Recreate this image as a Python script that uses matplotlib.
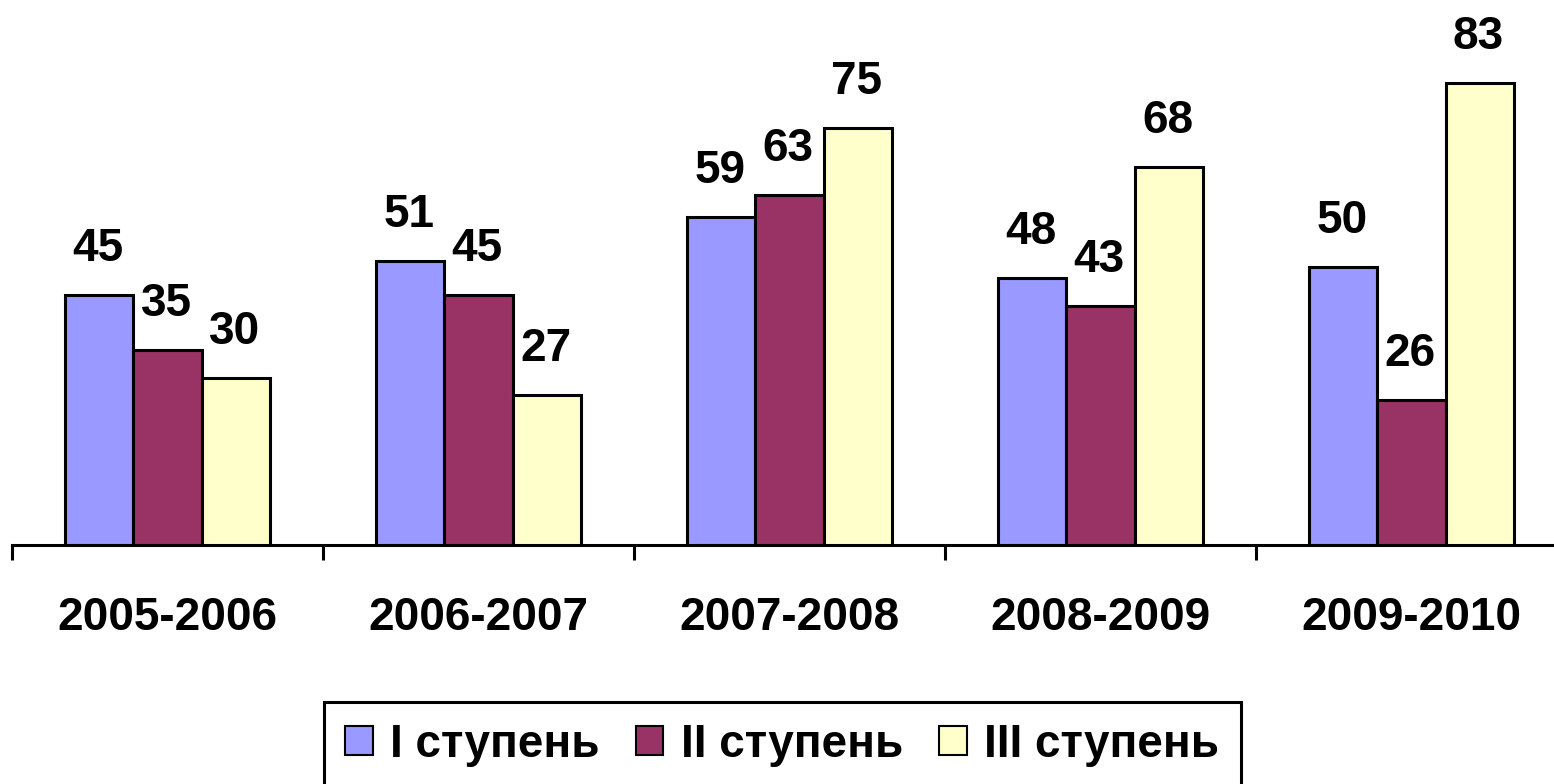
import matplotlib.pyplot as plt
import numpy as np

years = ["2005-2006", "2006-2007", "2007-2008", "2008-2009", "2009-2010"]
series_names = ["I ступень", "II ступень", "III ступень"]
stage1 = [45, 51, 59, 48, 50]
stage2 = [35, 45, 63, 43, 26]
stage3 = [30, 27, 75, 68, 83]
colors = ["#9999FF", "#993366", "#FFFFCC"]

W, H = 1554, 784
fig = plt.figure(figsize=(W / 100, H / 100), dpi=100)
# ось растянута чуть дальше правого края, как в оригинале
ax = fig.add_axes([12 / W, 1 - 545 / H, 1555 / W, 545 / H])

font = {"family": "Liberation Sans", "weight": "bold", "size": 33}

x = np.arange(len(years))
bw = 0.22
handles = []
for i, (vals, name, c) in enumerate(zip([stage1, stage2, stage3], series_names, colors)):
    pos = x + (i - 1) * bw
    b = ax.bar(pos, vals, width=bw, color=c, edgecolor="black", linewidth=2.2,
               label=name, zorder=3)
    handles.append(b)
    for px, v in zip(pos, vals):
        ax.annotate(str(v), (px, v), xytext=(-1, 24.5), textcoords="offset points",
                    ha="center", va="baseline", **font)

ax.set_xlim(-0.5, len(years) - 0.5)
ax.set_ylim(0, 98)
ax.set_yticks([])
for s in ["top", "right", "left"]:
    ax.spines[s].set_visible(False)
ax.spines["bottom"].set_linewidth(2.2)

ax.set_xticks(x)
ax.set_xticklabels(years, **font)
ax.tick_params(axis="x", which="major", length=0, pad=37)
ax.set_xticks(np.arange(-0.5, len(years)), minor=True)
ax.tick_params(axis="x", which="minor", length=11, width=2.2)

# низ рамки легенды уходит за край рисунка
leg = fig.legend(handles=handles, loc="upper left",
                 bbox_to_anchor=(324 / W, 1 - 702 / H), ncol=3,
                 prop=font, frameon=True, fancybox=False, edgecolor="black",
                 framealpha=1, handlelength=0.6, handleheight=0.6,
                 handletextpad=0.39, columnspacing=0.78, borderpad=0.46,
                 borderaxespad=0)
leg.get_frame().set_linewidth(2.2)
for p in leg.get_patches():
    p.set_linewidth(1.5)

fig.savefig("out.png", dpi=100)
